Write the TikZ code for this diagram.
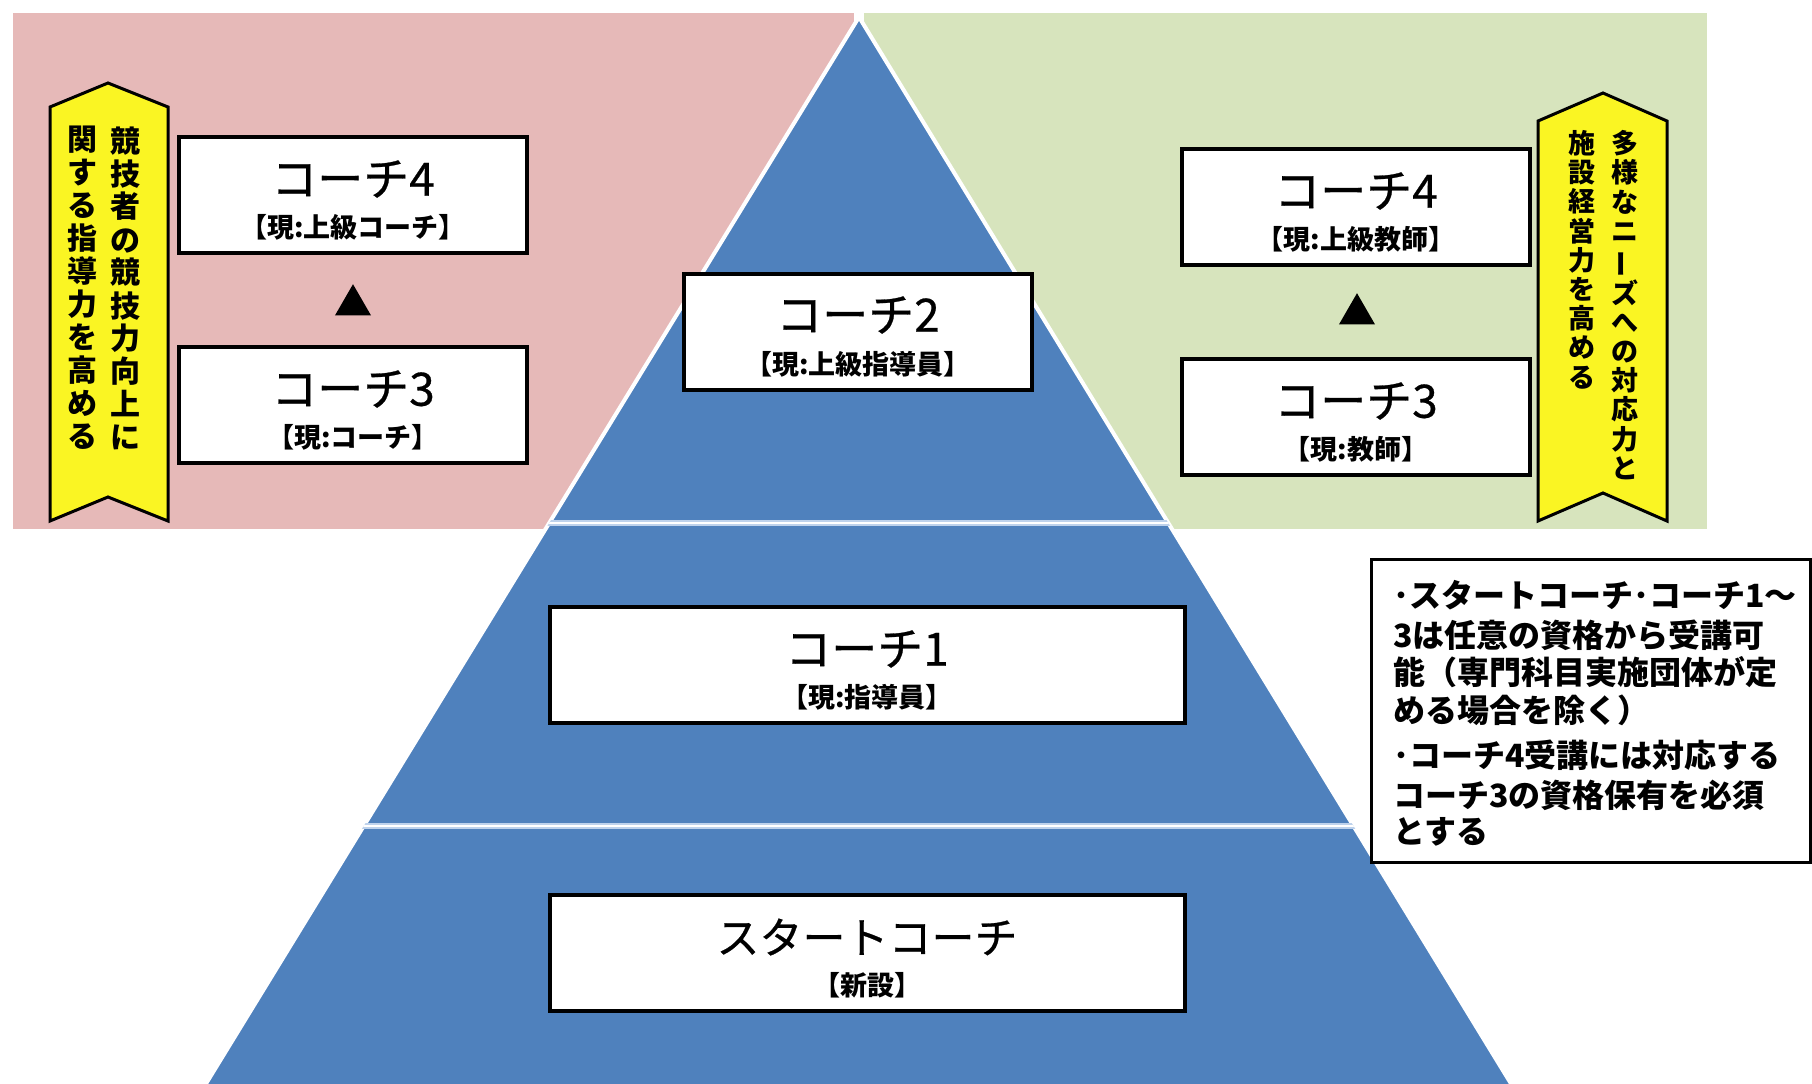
\documentclass[tikz,border=0pt]{standalone}
\usepackage{fontspec}
\usepackage{graphicx}
\setmainfont{Noto Sans CJK JP}
\newfontfamily\jpmed[FakeBold=0.6]{Noto Sans CJK JP}
\usetikzlibrary{shapes.geometric}
\definecolor{pinkbg}{RGB}{230,185,184}
\definecolor{greenbg}{RGB}{215,228,189}
\definecolor{pyrblue}{RGB}{79,129,189}
\definecolor{halo}{RGB}{190,210,236}
\definecolor{ribbony}{RGB}{250,245,35}
\newcommand{\vbar}{\rotatebox[origin=c]{90}{ー}}
\begin{document}
\begin{tikzpicture}[x=0.5pt,y=-0.5pt,
  cbox/.style={draw=black, fill=white, line width=2pt, inner sep=0pt, minimum width=174pt, minimum height=58pt},
  widebox/.style={cbox, minimum width=317.5pt},
  ttl/.style={inner sep=0pt, font=\jpmed\fontsize{23}{27}\selectfont},
  subt/.style={inner sep=0pt, font=\fontsize{13.5}{15}\selectfont\bfseries},
  ribbon/.style={draw=black, line width=1.5pt, fill=ribbony, line join=miter},
  vtextL/.style={inner sep=0pt, align=center, anchor=north, font=\fontsize{15}{16.5}\selectfont\bfseries},
  vtextR/.style={inner sep=0pt, align=center, anchor=north, font=\fontsize{13.5}{14.6}\selectfont\bfseries},
  notel/.style={inner sep=0pt, anchor=west, font=\fontsize{16}{19}\selectfont\bfseries},
  tri/.style={regular polygon, regular polygon sides=3, fill=black, inner sep=0pt, minimum size=20.8pt}
]
\useasboundingbox (0,0) rectangle (1812,1083);
\fill[white] (0,0) rectangle (1812,1083);
% backgrounds
\fill[pinkbg] (13,13) rectangle (854,529);
\fill[greenbg] (864,13) rectangle (1707,529);
% pyramid
\coordinate (apex) at (859,17);
\coordinate (bl) at (196,1100);
\coordinate (br) at (1521,1100);
\fill[pyrblue] (apex) -- (bl) -- (br) -- cycle;
\draw[white, line width=2pt, line join=miter] (bl) -- (apex) -- (br);
\begin{scope}
  \clip (apex) -- (bl) -- (br) -- cycle;
  \draw[halo, line width=3pt] (0,523) -- (1812,523);
  \draw[white, line width=1.3pt] (0,523) -- (1812,523);
  \draw[halo, line width=3pt] (0,826) -- (1812,826);
  \draw[white, line width=1.3pt] (0,826) -- (1812,826);
\end{scope}
% left ribbon
\draw[ribbon] (50,107) -- (108,83) -- (168,107) -- (168,521) -- (108,497) -- (50,521) -- cycle;
\node[vtextL] (lr1) at (125,126) {競\\技\\者\\の\\競\\技\\力\\向\\上\\に};
\node[vtextL] (lr2) at (83,126) {関\\す\\る\\指\\導\\力\\を\\高\\め\\る};
% right ribbon
\draw[ribbon] (1538,121) -- (1603,93) -- (1667,121) -- (1667,521) -- (1603,493) -- (1538,521) -- cycle;
\node[vtextR] (rr1) at (1625,130) {多\\様\\な\\ニ\\\vbar\\ズ\\へ\\の\\対\\応\\力\\と};
\node[vtextR] (rr2) at (1582,130) {施\\設\\経\\営\\力\\を\\高\\め\\る};
% left boxes
\node[cbox] (c4l) at (353,195) {};
\node[ttl] (c4lt) at (353,179) {コーチ4};
\node[subt] (c4ls) at (353,227) {【現:上級コーチ】};
\node[tri] (tl) at (353,305) {};
\node[cbox] (c3l) at (353,405) {};
\node[ttl] (c3lt) at (353,389) {コーチ3};
\node[subt] (c3ls) at (353,437) {【現:コーチ】};
% right boxes
\node[cbox] (c4r) at (1356,207) {};
\node[ttl] (c4rt) at (1356,191) {コーチ4};
\node[subt] (c4rs) at (1356,239) {【現:上級教師】};
\node[tri] (tr) at (1357,314) {};
\node[cbox] (c3r) at (1356,417) {};
\node[ttl] (c3rt) at (1356,401) {コーチ3};
\node[subt] (c3rs) at (1356,449) {【現:教師】};
% center boxes
\node[cbox] (c2) at (858,332) {};
\node[ttl] (c2t) at (858,315) {コーチ2};
\node[subt] (c2s) at (858,364) {【現:上級指導員】};
\node[widebox] (c1) at (867,665) {};
\node[ttl] (c1t) at (867,649) {コーチ1};
\node[subt] (c1s) at (867,697) {【現:指導員】};
\node[widebox] (cs) at (867,953) {};
\node[ttl, font=\jpmed\fontsize{21.5}{25}\selectfont] (cst) at (867,937) {スタートコーチ};
\node[subt] (css) at (867,985) {【新設】};
% note
\node[draw=black, fill=white, line width=1.6pt, minimum width=219.5pt, minimum height=151.5pt, inner sep=0pt] (note) at (1591,711) {};
\node[notel] (n1) at (1393,595) {･スタートコーチ･コーチ1～};
\node[notel] (n2) at (1393,635) {3は任意の資格から受講可};
\node[notel] (n3) at (1393,672) {能（専門科目実施団体が定};
\node[notel] (n4) at (1393,710) {める場合を除く）};
\node[notel] (n5) at (1393,755) {･コーチ4受講には対応する};
\node[notel] (n6) at (1393,795) {コーチ3の資格保有を必須};
\node[notel] (n7) at (1393,832) {とする};
\end{tikzpicture}
\end{document}
